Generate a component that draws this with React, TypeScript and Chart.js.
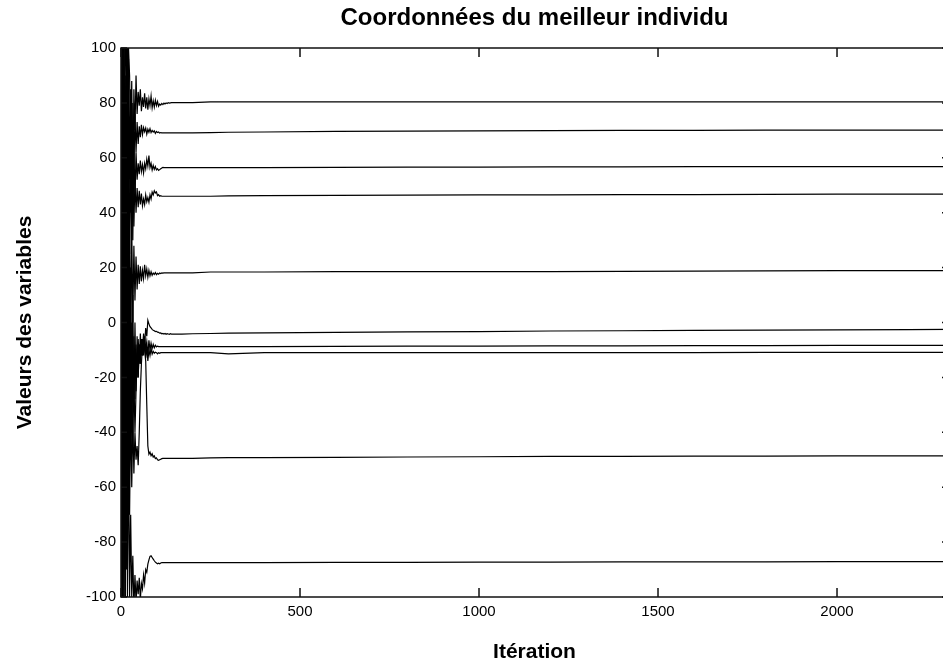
import React, { useEffect, useRef } from "react";
import { Chart, registerables } from "chart.js";

Chart.register(...registerables);

const iterations = [
  0, 3, 6, 9, 12, 15, 18, 21, 24, 27,
  30, 33, 36, 39, 42, 45, 48, 51, 54, 57,
  60, 63, 66, 69, 72, 75, 78, 81, 84, 87,
  90, 93, 96, 99, 102, 105, 108, 111, 114, 117,
  120, 123, 126, 129, 132, 135, 138, 141, 144, 147,
  150,
  170, 200, 250, 300, 400, 600, 800, 1000, 1200, 1400, 1600, 1800, 2000, 2200, 2310,
];

const var1 = [
  100, -60, 100, 20, 100, 95, 70, 100, 90, 60,
  88, 45, 85, 70, 90, 76, 84, 79, 85, 77,
  82, 78.5, 83.5, 78, 82, 77.5, 81.5, 79, 82.5, 78.2,
  80.8, 78.5, 81, 79, 80.5, 78.8, 79.6, 79.2, 79.8, 79.4,
  79.9, 79.6, 80, 79.8, 80.1, 79.9, 80, 80.1, 80.1, 80.1,
  80.1,
  80.1, 80.1, 80.4, 80.4, 80.4, 80.4, 80.4, 80.4, 80.4, 80.4, 80.4, 80.4, 80.4, 80.4, 80.4,
];
const var2 = [
  -100, 100, 30, 100, -20, 100, 40, 96, 55, 85,
  40, 80, 55, 76, 62, 73, 65, 71.5, 67.5, 72,
  68.5, 71, 69.5, 70.8, 68.6, 70.4, 69.3, 70.6, 69.2, 70,
  69.4, 69.8, 68.9, 69.6, 69.2, 69.4, 69, 69.2, 69.1, 69.1,
  69.1, 69.1, 69.1, 69.1, 69.1, 69.1, 69.1, 69.1, 69.1, 69.1,
  69.1,
  69.1, 69.1, 69.2, 69.3, 69.4, 69.6, 69.7, 69.8, 69.9, 70, 70, 70.1, 70.1, 70.1, 70.1,
];
const var3 = [
  60, -100, 100, -50, 90, 20, 100, 30, 75, 40,
  70, 30, 65, 45, 62, 52, 58, 54, 59, 55,
  57.5, 54.5, 58, 56, 59.5, 57, 60.8, 56.5, 58, 55.6,
  57.2, 55.8, 56.8, 55.6, 56, 55.4, 55.7, 56, 56.3, 56.5,
  56.4, 56.4, 56.4, 56.4, 56.4, 56.4, 56.4, 56.4, 56.4, 56.4,
  56.4,
  56.4, 56.4, 56.4, 56.4, 56.4, 56.5, 56.6, 56.6, 56.7, 56.7, 56.8, 56.8, 56.8, 56.8, 56.8,
];
const var4 = [
  -100, 80, -80, 100, -30, 100, 10, 70, 25, 60,
  30, 55, 35, 52, 40, 49, 42, 48, 43, 47,
  42.5, 45, 43, 46.5, 44, 45.5, 43.8, 46.5, 45, 47.5,
  46.5, 48, 47.2, 47.6, 46.2, 46.6, 46, 46.2, 46, 46,
  46, 46, 46, 46, 46, 46, 46, 46, 46, 46,
  46,
  46, 46, 46, 46.1, 46.2, 46.3, 46.4, 46.5, 46.5, 46.6, 46.6, 46.7, 46.8, 46.8, 46.8,
];
const var5 = [
  100, -100, 70, -90, 50, -60, 60, -30, 40, -10,
  35, 0, 28, 8, 24, 12, 21, 14, 20.5, 15,
  19, 16, 21, 17, 19.5, 16.5, 19, 17, 18.5, 17.2,
  18, 17.5, 18.2, 17.4, 17.9, 17.6, 18, 17.8, 18.1, 18,
  18.1, 18.1, 18.1, 18.1, 18.1, 18.1, 18.1, 18.1, 18.1, 18.1,
  18.1,
  18.1, 18.1, 18.4, 18.4, 18.4, 18.5, 18.5, 18.5, 18.5, 18.6, 18.7, 18.8, 18.9, 18.9, 18.9,
];
const var6 = [
  -100, 100, -60, 80, -100, 60, -70, 40, -50, 20,
  -40, 10, -30, 0, -25, -5, -20, -8, -15, -6,
  -12, -4, -8, -2, -5, 0.8, -0.5, -1.5, -2, -2.5,
  -2.8, -3, -3.3, -3.2, -3.5, -3.6, -3.9, -3.8, -4.1, -4,
  -4.2, -4, -4.3, -4.1, -4.2, -4.3, -4.1, -4.2, -4.2, -4.2,
  -4.2,
  -4.2, -4.1, -4, -3.9, -3.8, -3.6, -3.4, -3.3, -3.1, -3, -2.9, -2.8, -2.7, -2.6, -2.5,
];
const var7 = [
  40, -100, 100, -40, 60, -80, 30, -60, 10, -45,
  0, -35, -5, -28, -8, -20, -6, -15, -4, -12,
  -6, -11, -5, -10, -7, -12, -6.5, -10, -7.5, -9.5,
  -8, -9.2, -8.3, -8.9, -8.6, -8.8, -8.8, -8.8, -8.8, -8.8,
  -8.8, -8.8, -8.8, -8.8, -8.8, -8.8, -8.8, -8.8, -8.8, -8.8,
  -8.8,
  -8.8, -8.8, -8.8, -8.8, -8.8, -8.7, -8.6, -8.6, -8.5, -8.5, -8.4, -8.4, -8.3, -8.3, -8.3,
];
const var8 = [
  -100, 60, -100, 40, -80, 10, -90, -20, -70, -30,
  -60, -35, -55, -40, -50, -45, -52, -40, -25, -15,
  -8, -12, -6, -13, -9, -14, -10, -12, -9.5, -11.5,
  -10.5, -11.2, -10.8, -11, -11.4, -11, -11.2, -11, -11, -11,
  -11, -11, -11, -11, -11, -11, -11, -11, -11, -11,
  -11,
  -11, -11, -11, -11.4, -11, -11, -11, -11, -11, -11, -11, -10.9, -10.9, -10.9, -10.9,
];
const var9 = [
  100, -100, 40, -100, 20, -90, 0, -60, -20, -50,
  -30, -45, -20, -40, -25, -12, -20, -8, -15, -6,
  -12, -5, -10, -14, -30, -45, -48, -47.2, -48.5, -47.8,
  -49, -48.6, -49.6, -49.3, -50, -50.2, -50, -49.8, -49.6, -49.5,
  -49.5, -49.5, -49.5, -49.5, -49.5, -49.5, -49.5, -49.5, -49.5, -49.5,
  -49.5,
  -49.5, -49.5, -49.3, -49.2, -49.2, -49.1, -49, -48.9, -48.8, -48.8, -48.7, -48.7, -48.6, -48.6, -48.6,
];
const var10 = [
  -20, 100, -100, 60, -100, -10, -100, -40, -100, -70,
  -100, -85, -104, -92, -102, -94, -99, -93, -101, -95,
  -97, -92, -95, -90, -91, -88, -86.5, -85.2, -85, -85.6,
  -86.2, -86.8, -87.3, -87.6, -87.9, -87.7, -87.9, -87.6, -87.5, -87.5,
  -87.5, -87.5, -87.5, -87.5, -87.5, -87.5, -87.5, -87.5, -87.5, -87.5,
  -87.5,
  -87.5, -87.5, -87.5, -87.5, -87.5, -87.4, -87.4, -87.3, -87.3, -87.2, -87.2, -87.2, -87.1, -87.1, -87.1,
];

const seriesList = [var1, var2, var3, var4, var5, var6, var7, var8, var9, var10];

const xTickValues = [0, 500, 1000, 1500, 2000];
const yTickValues = [-100, -80, -60, -40, -20, 0, 20, 40, 60, 80, 100];
const xMax = 2310;
const yMin = -100;
const yMax = 100;

const chartTitle = "Coordonnées du meilleur individu";
const xTitle = "Itération";
const yTitle = "Valeurs des variables";

const FONT = "'Liberation Sans', Arial, Helvetica, sans-serif";

const boxPlugin = {
  id: "matlabBox",
  afterDatasetsDraw(chart: any) {
    const { ctx, chartArea, scales } = chart;
    const { left, right, top, bottom } = chartArea;
    const xs = scales.x;
    const ys = scales.y;
    ctx.save();
    ctx.strokeStyle = "#111";
    ctx.lineWidth = 1.5;
    ctx.strokeRect(left, top, right - left, bottom - top);
    ctx.beginPath();
    xs.ticks.forEach((t: any) => {
      const px = xs.getPixelForValue(t.value);
      ctx.moveTo(px, bottom);
      ctx.lineTo(px, bottom - 9);
      ctx.moveTo(px, top);
      ctx.lineTo(px, top + 9);
    });
    ys.ticks.forEach((t: any) => {
      const py = ys.getPixelForValue(t.value);
      ctx.moveTo(left, py);
      ctx.lineTo(left + 6, py);
      ctx.moveTo(right, py);
      ctx.lineTo(right - 6, py);
    });
    ctx.stroke();
    ctx.restore();
  },
};

export default function App() {
  const canvasRef = useRef<HTMLCanvasElement | null>(null);

  useEffect(() => {
    const canvas = canvasRef.current;
    if (!canvas) return;
    const datasets = seriesList.map((vals, i) => ({
      label: "x" + (i + 1),
      data: iterations.map((it, k) => ({ x: it, y: vals[k] })),
      borderColor: "#000",
      borderWidth: 1.2,
      pointRadius: 0,
      tension: 0,
      fill: false,
    }));
    const chart = new Chart(canvas, {
      type: "line",
      data: { datasets },
      options: {
        animation: false,
        responsive: false,
        devicePixelRatio: 1,
        events: [],
        layout: { padding: { left: 0, right: 7, top: 0, bottom: 0 } },
        plugins: {
          legend: { display: false },
          tooltip: { enabled: false },
          title: {
            display: true,
            text: chartTitle,
            fullSize: false,
            color: "#000",
            font: { family: FONT, size: 24, weight: "bold" },
            padding: { top: 4, bottom: 15.2 },
          },
        },
        scales: {
          x: {
            type: "linear",
            min: 0,
            max: xMax,
            grid: { display: false, drawTicks: false, tickLength: 0 },
            border: { display: false },
            afterBuildTicks: (s: any) => {
              s.ticks = xTickValues.map((v) => ({ value: v }));
            },
            ticks: {
              autoSkip: false,
              maxRotation: 0,
              color: "#000",
              padding: 6,
              font: { family: FONT, size: 15 },
              callback: (v: any) => String(v),
            },
            title: {
              display: true,
              text: xTitle,
              color: "#000",
              font: { family: FONT, size: 21, weight: "bold" },
              padding: { top: 0, bottom: 2 },
            },
            afterFit: (s: any) => {
              s.height = 70;
            },
          },
          y: {
            type: "linear",
            min: yMin,
            max: yMax,
            grid: { display: false, drawTicks: false, tickLength: 0 },
            border: { display: false },
            afterBuildTicks: (s: any) => {
              s.ticks = yTickValues.map((v) => ({ value: v }));
            },
            ticks: {
              autoSkip: false,
              color: "#000",
              padding: 5,
              font: { family: FONT, size: 15 },
              callback: (v: any) => String(v),
            },
            title: {
              display: true,
              text: yTitle,
              color: "#000",
              font: { family: FONT, size: 21, weight: "bold" },
              padding: { top: 13, bottom: 0 },
            },
            afterFit: (s: any) => {
              s.width = 121;
            },
          },
        },
      },
      plugins: [boxPlugin],
    } as any);
    return () => chart.destroy();
  }, []);

  return (
    <div
      style={{
        position: "fixed",
        left: 0,
        top: 0,
        width: 943,
        height: 667,
        overflow: "hidden",
        background: "#fff",
      }}
    >
      <canvas ref={canvasRef} width={955} height={667} style={{ display: "block" }} />
    </div>
  );
}
